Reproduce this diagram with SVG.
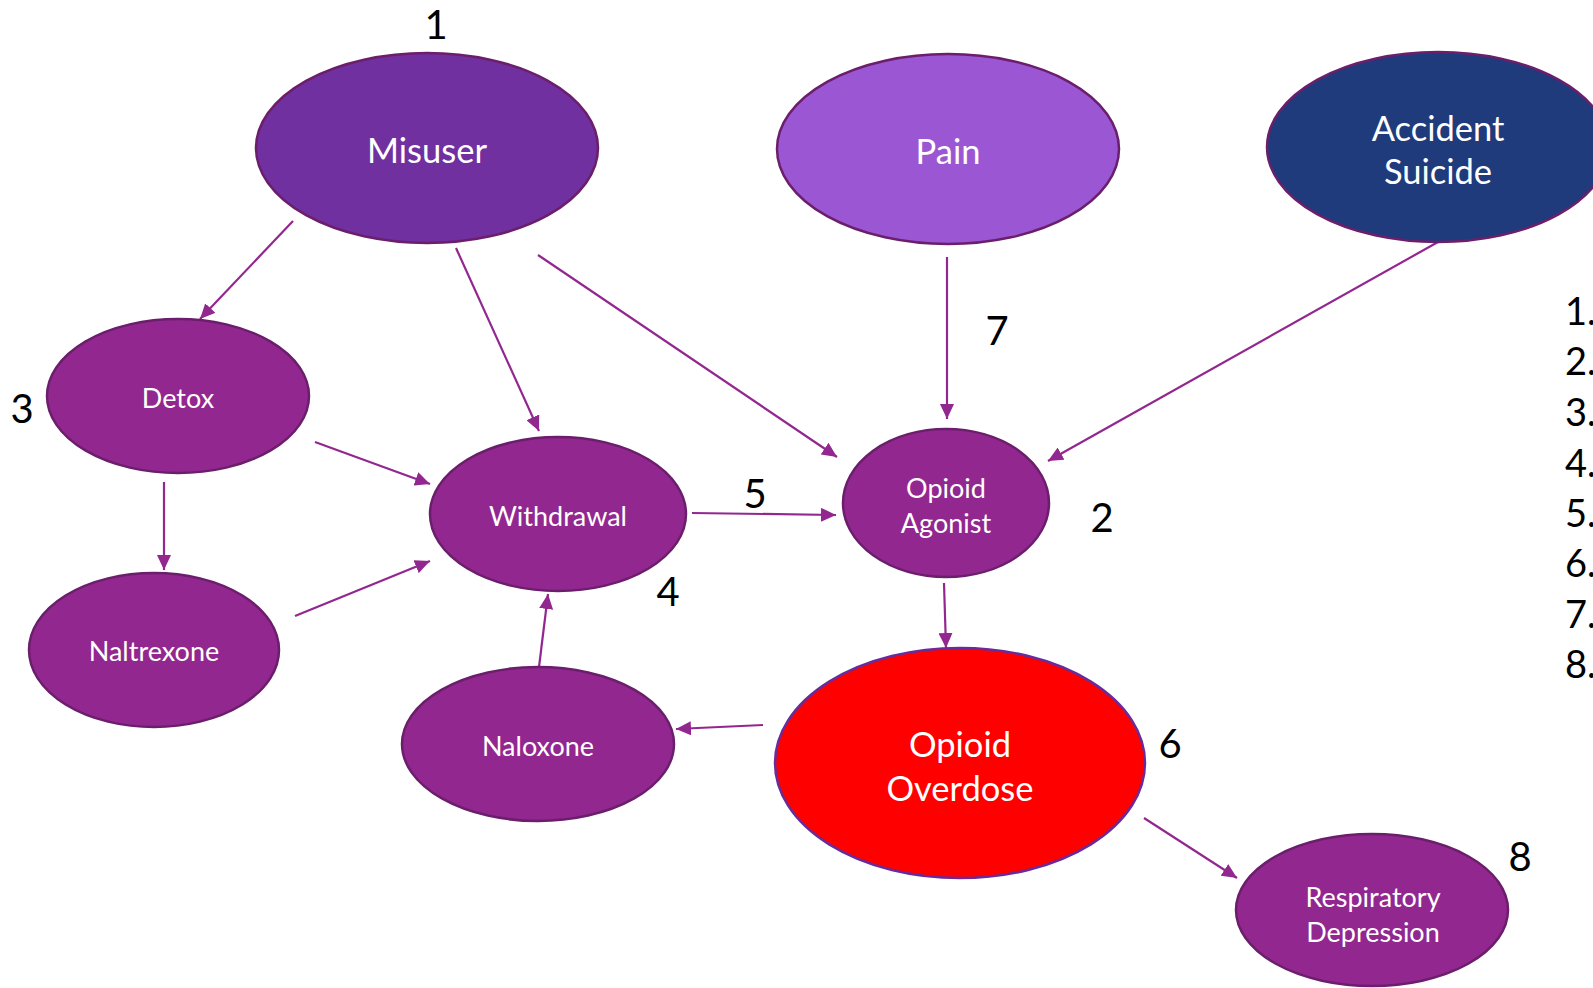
<svg xmlns="http://www.w3.org/2000/svg" width="1593" height="988" viewBox="0 0 1593 988">
<style>
.n{stroke:#6B1E6B;stroke-width:2.5}
.p{fill:#92278F}
.t{font-family:Lato,"Open Sans","Liberation Sans",sans-serif;fill:#fff;text-anchor:middle;dominant-baseline:central}
.big{font-size:34.5px}
.sm{font-size:27px}
.num{font-family:Lato,"Open Sans","Liberation Sans",sans-serif;fill:#000;font-size:40px;text-anchor:middle}
.lst{font-family:Lato,"Open Sans","Liberation Sans",sans-serif;fill:#000;font-size:38px}
.c line{stroke:#92278F;stroke-width:2.2;marker-end:url(#a)}
</style>
<defs>
<marker id="a" markerUnits="userSpaceOnUse" markerWidth="16" markerHeight="14" refX="15" refY="7" orient="auto">
<path d="M0,0 L15,7 L0,14 z" fill="#92278F"/>
</marker>
</defs>
<rect width="1593" height="988" fill="#fff"/>
<g class="c" id="connectors">
<line x1="293" y1="221" x2="200" y2="319"/>
<line x1="456" y1="248" x2="539" y2="431"/>
<line x1="538" y1="255" x2="837" y2="457"/>
<line x1="947" y1="257" x2="947" y2="419"/>
<line x1="1438" y1="242" x2="1048" y2="461"/>
<line x1="164" y1="482" x2="164" y2="570"/>
<line x1="315" y1="442" x2="430" y2="484"/>
<line x1="295" y1="616" x2="430" y2="561"/>
<line x1="692" y1="513" x2="836" y2="515"/>
<line x1="944" y1="583" x2="946" y2="648"/>
<line x1="539" y1="667" x2="548" y2="594"/>
<line x1="763" y1="725" x2="676" y2="729"/>
<line x1="1144" y1="818" x2="1237" y2="878"/>
</g>
<g id="misuser">
<ellipse class="n" cx="427" cy="148" rx="171" ry="95" fill="#7030A0"/>
<text class="t big" x="427" y="149">Misuser</text>
</g>
<g id="pain">
<ellipse class="n" cx="948" cy="149" rx="171" ry="95" fill="#9B57D3"/>
<text class="t big" x="948" y="150">Pain</text>
</g>
<g id="accident">
<ellipse class="n" cx="1438" cy="147" rx="171" ry="95" fill="#1F3B7B"/>
<text class="t big" x="1438" y="127">Accident</text>
<text class="t big" x="1438" y="170">Suicide</text>
</g>
<g id="detox">
<ellipse class="n p" cx="178" cy="396" rx="131" ry="77"/>
<text class="t sm" x="178" y="397">Detox</text>
</g>
<g id="naltrexone">
<ellipse class="n p" cx="154" cy="650" rx="125" ry="77"/>
<text class="t sm" x="154" y="650">Naltrexone</text>
</g>
<g id="withdrawal">
<ellipse class="n p" cx="558" cy="514" rx="128" ry="77"/>
<text class="t sm" x="558" y="515">Withdrawal</text>
</g>
<g id="agonist">
<ellipse class="n p" cx="946" cy="503" rx="103" ry="74"/>
<text class="t sm" x="946" y="487">Opioid</text>
<text class="t sm" x="946" y="522">Agonist</text>
</g>
<g id="naloxone">
<ellipse class="n p" cx="538" cy="744" rx="136" ry="77"/>
<text class="t sm" x="538" y="745">Naloxone</text>
</g>
<g id="overdose">
<ellipse cx="960" cy="763" rx="185" ry="115" fill="#FF0000" stroke="#6A2A9A" stroke-width="2.5"/>
<text class="t big" x="960" y="743">Opioid</text>
<text class="t big" x="960" y="787">Overdose</text>
</g>
<g id="respiratory">
<ellipse class="n p" cx="1372" cy="910" rx="136" ry="76"/>
<text class="t sm" x="1373" y="896">Respiratory</text>
<text class="t sm" x="1373" y="931">Depression</text>
</g>
<g id="labels">
<text class="num" x="436" y="39">1</text>
<text class="num" x="1102" y="532">2</text>
<text class="num" x="22" y="423">3</text>
<text class="num" x="668" y="606">4</text>
<text class="num" x="755" y="508">5</text>
<text class="num" x="1170" y="758">6</text>
<text class="num" x="997" y="345">7</text>
<text class="num" x="1520" y="871">8</text>
</g>
<g id="list">
<text class="lst" x="1565" y="325">1.</text>
<text class="lst" x="1565" y="375">2.</text>
<text class="lst" x="1565" y="426">3.</text>
<text class="lst" x="1565" y="477">4.</text>
<text class="lst" x="1565" y="527">5.</text>
<text class="lst" x="1565" y="577">6.</text>
<text class="lst" x="1565" y="628">7.</text>
<text class="lst" x="1565" y="678">8.</text>
</g>
</svg>
